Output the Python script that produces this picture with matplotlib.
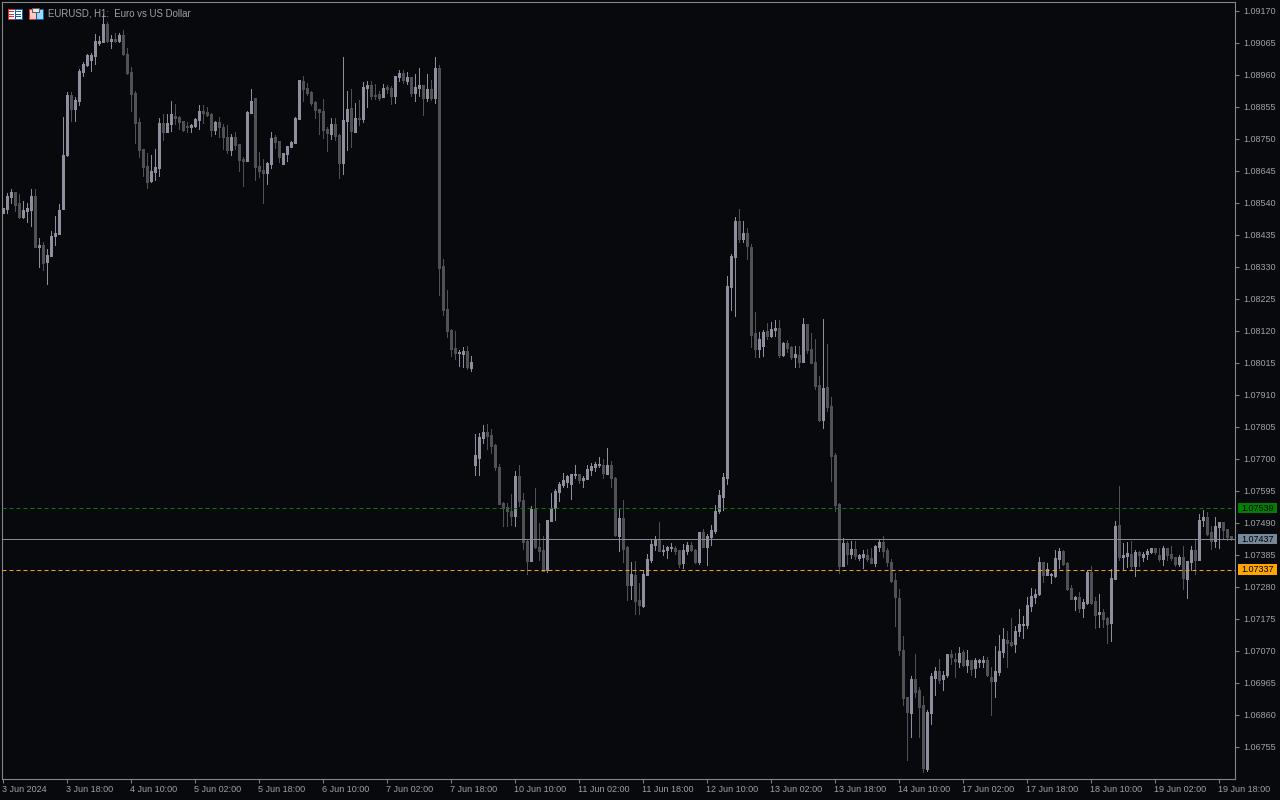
import matplotlib
matplotlib.use("Agg")
import matplotlib.pyplot as plt
from matplotlib.patches import Rectangle
from matplotlib.transforms import blended_transform_factory, Affine2D

# Prices in points (1 point = 0.00001)
highs = [108524,108573,108586,108576,108570,108547,108540,108586,108586,108425,
108412,108389,108448,108498,108537,108822,108904,108904,108888,108980,
109003,109029,109032,109094,109088,109160,109134,109091,109098,109098,
109108,109048,108986,108907,108819,108717,108704,108698,108717,108819,
108832,108832,108875,108865,108825,108809,108806,108799,108819,108862,
108862,108855,108835,108809,108822,108799,108796,108766,108773,108734,
108691,108842,108914,108884,108707,108684,108674,108773,108763,108743,
108704,108727,108743,108822,108943,108957,108934,108907,108875,108848,
108881,108789,108819,108819,108766,109019,108907,108914,108868,108878,
108937,108940,108940,108930,108907,108930,108927,108924,108957,108976,
108976,108970,108953,108963,108983,108927,108963,108943,109019,108993,
108356,108255,108127,108120,108058,108068,108071,108038,107782,107786,
107812,107815,107799,107750,107684,107558,107555,107586,107661,107681,
107589,107434,107545,107605,107490,107447,107499,107589,107602,107625,
107654,107648,107651,107681,107651,107645,107681,107687,107691,107707,
107700,107736,107694,107641,107539,107565,107414,107362,107365,107293,
107335,107388,107434,107447,107493,107417,107414,107424,107414,107401,
107421,107427,107427,107404,107460,107470,107453,107483,107549,107599,
107654,108301,108373,108494,108520,108481,108458,108406,108183,108117,
108124,108147,108150,108156,108156,108084,108091,108071,108071,108071,
108163,108143,108114,108094,107972,108160,108078,107904,107720,107555,
107440,107430,107430,107430,107388,107401,107404,107407,107417,107434,
107447,107407,107371,107325,107273,107119,106919,106988,107060,106952,
106922,106876,106998,107017,107043,107004,107060,107073,107063,107083,
107073,107073,107040,107047,107043,107053,107050,107017,107086,107122,
107145,107135,107178,107152,107207,107184,107247,107276,107273,107378,
107362,107358,107325,107401,107407,107401,107362,107286,107250,107263,
107240,107335,107348,107247,107257,107207,107181,107339,107496,107612,
107424,107427,107430,107401,107398,107394,107404,107407,107407,107407,
107414,107407,107414,107378,107385,107414,107365,107414,107434,107519,
107532,107526,107480,107509,107493,107493,107470,107447]

opens = [108507,108520,108560,108576,108540,108494,108514,108517,108563,108396,
108402,108347,108366,108432,108438,108520,108698,108894,108848,108875,
108970,108993,109009,109022,109065,109068,109127,109071,109078,109071,
109091,109029,108970,108901,108806,108717,108662,108612,108642,108655,
108803,108773,108799,108825,108822,108809,108793,108789,108793,108812,
108842,108838,108832,108779,108806,108789,108757,108714,108757,108734,
108684,108678,108835,108884,108662,108648,108638,108668,108757,108743,
108668,108701,108724,108737,108816,108940,108917,108904,108871,108848,
108842,108783,108766,108799,108763,108671,108809,108852,108773,108819,
108816,108917,108927,108894,108898,108888,108921,108917,108891,108953,
108966,108940,108953,108901,108917,108927,108884,108914,108884,108983,
108333,108192,108124,108064,108048,108045,108055,107999,107681,107704,
107769,107789,107779,107746,107674,107555,107542,107529,107512,107645,
107565,107430,107365,107536,107411,107401,107335,107496,107539,107592,
107615,107625,107618,107648,107651,107631,107635,107664,107674,107681,
107681,107651,107681,107638,107447,107506,107411,107286,107319,107237,
107217,107319,107368,107417,107437,107398,107401,107407,107407,107401,
107358,107398,107417,107401,107362,107460,107411,107444,107463,107529,
107576,107638,108265,108363,108481,108422,108442,108396,108114,108061,
108071,108120,108104,108124,108130,108042,108081,108068,108035,108042,
108018,108143,108061,108018,107943,107828,107936,107874,107714,107552,
107348,107424,107388,107404,107375,107378,107385,107375,107358,107411,
107427,107401,107362,107302,107243,107073,106919,106866,106978,106942,
106893,106683,106866,106981,107004,106978,106991,107060,107043,107033,
107066,107024,107040,107014,107033,107033,107040,106985,106972,107001,
107066,107106,107099,107093,107135,107155,107155,107217,107247,107257,
107362,107319,107319,107316,107371,107398,107358,107276,107240,107247,
107211,107227,107329,107234,107191,107198,107178,107161,107306,107483,
107378,107381,107388,107348,107394,107378,107388,107394,107407,107385,
107371,107407,107388,107378,107355,107378,107306,107362,107401,107368,
107499,107509,107460,107430,107476,107493,107470,107447]

closes = [108524,108563,108576,108534,108494,108517,108524,108563,108396,108402,
108343,108370,108432,108442,108517,108698,108894,108848,108878,108973,
108996,109026,109026,109071,109071,109127,109071,109078,109071,109091,
109029,108966,108898,108803,108714,108658,108609,108645,108658,108803,
108773,108803,108832,108819,108806,108779,108789,108796,108816,108842,
108835,108829,108779,108806,108789,108757,108714,108757,108730,108681,
108678,108838,108875,108658,108645,108638,108671,108753,108740,108691,
108704,108727,108740,108819,108943,108914,108901,108868,108845,108838,
108779,108770,108799,108760,108671,108812,108848,108776,108819,108816,
108921,108927,108891,108891,108884,108917,108914,108891,108957,108966,
108943,108953,108901,108921,108927,108884,108914,108884,108983,108327,
108189,108120,108061,108048,108051,108055,108002,108018,107714,107773,
107789,107776,107743,107674,107552,107539,107529,107512,107645,107562,
107427,107365,107536,107411,107398,107332,107499,107539,107595,107618,
107631,107645,107651,107651,107631,107638,107668,107678,107684,107684,
107654,107681,107638,107450,107506,107404,107286,107322,107234,107221,
107322,107371,107421,107437,107398,107401,107411,107411,107398,107355,
107401,107417,107401,107362,107460,107411,107447,107467,107529,107582,
107641,108268,108366,108481,108422,108442,108399,108107,108061,108094,
108117,108104,108127,108130,108042,108081,108064,108035,108045,108018,
108143,108058,108015,107940,107828,107933,107871,107710,107549,107349,
107424,107388,107404,107381,107385,107388,107371,107358,107414,107427,
107398,107362,107299,107247,107073,106916,106870,106978,106935,106886,
106686,106870,106988,107004,106975,106991,107060,107050,107037,107063,
107024,107040,107011,107040,107040,107040,106991,106972,107004,107070,
107109,107096,107089,107135,107158,107158,107221,107250,107257,107362,
107319,107339,107322,107375,107398,107355,107273,107240,107247,107211,
107230,107329,107227,107188,107198,107175,107158,107309,107480,107378,
107385,107391,107348,107394,107385,107388,107398,107407,107394,107371,
107407,107385,107375,107355,107378,107309,107365,107401,107368,107499,
107509,107453,107430,107480,107493,107467,107444,107437]

lows = [108507,108507,108540,108514,108491,108491,108478,108465,108396,108330,
108320,108274,108366,108402,108438,108520,108694,108809,108809,108862,
108957,108989,108973,108996,109058,109068,109068,109048,109068,109068,
109026,108963,108842,108737,108691,108630,108589,108609,108615,108630,
108747,108773,108776,108799,108783,108776,108773,108773,108789,108783,
108803,108825,108760,108766,108757,108717,108704,108698,108717,108645,
108596,108678,108835,108615,108625,108540,108602,108655,108720,108674,
108668,108678,108724,108737,108816,108875,108894,108862,108819,108766,
108753,108711,108750,108747,108621,108635,108714,108724,108773,108796,
108806,108855,108881,108881,108878,108888,108901,108865,108868,108940,
108934,108930,108891,108875,108891,108829,108875,108878,108868,108238,
108173,108101,108038,108028,108005,108002,107995,107989,107648,107648,
107753,107733,107720,107664,107552,107480,107480,107483,107480,107545,
107404,107322,107365,107407,107368,107332,107329,107496,107499,107562,
107608,107608,107569,107638,107622,107608,107635,107648,107661,107674,
107638,107651,107608,107447,107398,107362,107237,107240,107191,107191,
107214,107319,107362,107401,107398,107385,107375,107398,107388,107345,
107342,107388,107398,107358,107355,107411,107351,107417,107457,107522,
107532,107618,108189,108170,108412,108412,108356,108068,108035,108035,
108038,108094,108101,108104,108035,108038,108051,108028,108002,108002,
108018,108048,108015,107930,107825,107802,107858,107628,107529,107325,
107348,107355,107375,107371,107368,107342,107365,107358,107348,107398,
107378,107348,107296,107152,107057,106893,106713,106788,106919,106788,
106673,106676,106830,106926,106965,106942,106985,107027,106985,107017,
107020,107001,106991,106985,107017,107017,106988,106860,106919,106991,
107050,107017,107086,107066,107119,107112,107145,107201,107227,107253,
107296,107319,107293,107312,107342,107351,107270,107240,107204,107198,
107181,107224,107224,107145,107148,107148,107096,107102,107306,107368,
107339,107345,107339,107316,107348,107365,107371,107391,107388,107365,
107351,107368,107368,107348,107348,107273,107243,107335,107322,107368,
107480,107450,107404,107411,107407,107440,107434,107434]

time_labels = ["3 Jun 2024", "3 Jun 18:00", "4 Jun 10:00", "5 Jun 02:00", "5 Jun 18:00",
               "6 Jun 10:00", "7 Jun 02:00", "7 Jun 18:00", "10 Jun 10:00", "11 Jun 02:00",
               "11 Jun 18:00", "12 Jun 10:00", "13 Jun 02:00", "13 Jun 18:00", "14 Jun 10:00",
               "17 Jun 02:00", "17 Jun 18:00", "18 Jun 10:00", "19 Jun 02:00", "19 Jun 18:00"]
price_ticks = [109170, 109065, 108960, 108855, 108750, 108645, 108540, 108435, 108330,
               108225, 108120, 108015, 107910, 107805, 107700, 107595, 107490, 107385,
               107280, 107175, 107070, 106965, 106860, 106755]
level_high = 107539
level_bid = 107437
level_low = 107337
title = "EURUSD, H1:  Euro vs US Dollar"

POINT = 1e-5
BG = "#08090d"
BULL = "#8e8e9e"
BEAR = "#505056"
AXIS = "#85858c"
TEXT = "#a0a0a8"
FONT = "Liberation Sans"
FS = 6.5
W, H = 1280, 800

n = len(closes)
xs = list(range(n))
to_price = lambda seq: [v * POINT for v in seq]
hi, lo, op, cl = map(to_price, (highs, lows, opens, closes))
colors = [BULL if c >= o else BEAR for o, c in zip(op, cl)]

fig = plt.figure(figsize=(W / 100, H / 100), dpi=100, facecolor=BG)
ax = fig.add_axes([2 / W, (H - 779) / H, 1233 / W, 777 / H], facecolor=BG)
ax.set_xlim(-0.125, 308.125)
ax.set_ylim(1.0665, 1.0919953)

ax.vlines(xs, lo, hi, colors=colors, linewidth=0.72, antialiased=False, zorder=2)
bottoms = [min(o, c) for o, c in zip(op, cl)]
heights = [abs(o - c) for o, c in zip(op, cl)]
ax.vlines(xs, bottoms, [b + h for b, h in zip(bottoms, heights)], colors=colors,
          linewidth=2.16, antialiased=False, zorder=3)

for price, col, style in [(level_high, "#008000", (0, (4.0, 3.0))),
                          (level_low, "#ffa500", (0, (4.0, 3.0))),
                          (level_bid, "#8a8a96", "-")]:
    ax.axhline(price * POINT, color=col, linewidth=0.72, linestyle=style, zorder=4)

for s in ax.spines.values():
    s.set_color(AXIS)
    s.set_linewidth(0.8)
ax.yaxis.tick_right()
ax.set_yticks([p * POINT for p in price_ticks])
ax.set_yticklabels([f"{p * POINT:.5f}" for p in price_ticks], fontfamily=FONT, fontsize=FS, color=TEXT)
ax.set_xticks([i * 16 for i in range(len(time_labels))])
ax.set_xticklabels(time_labels, fontfamily=FONT, fontsize=FS, color=TEXT, ha="left")
ax.tick_params(axis="y", length=2.6, width=0.72, color=AXIS, pad=3.6)
ax.tick_params(axis="x", length=2.6, width=0.72, color=AXIS, pad=1.5)

# Price tags on the right scale
tr = blended_transform_factory(ax.transAxes, ax.transData)
px_y = 0.0000328125
for price, col in [(level_high, "#008000"), (level_bid, "#778899"), (level_low, "#ffa500")]:
    p = price * POINT
    ax.add_patch(Rectangle((1 + 2.5 / 1233, p - 5.2 * px_y), 39.5 / 1233, 10.4 * px_y, transform=tr,
                           facecolor=col, edgecolor="none", clip_on=False, zorder=6))
    ax.text(1 + 6.5 / 1233, p, f"{p:.5f}", transform=tr, fontfamily=FONT, fontsize=FS, color="#000000",
            ha="left", va="center", clip_on=False, zorder=7)

fig.text(48 / W, 1 - 13.5 / H, title, fontfamily=FONT, fontsize=6.9, color=TEXT, ha="left", va="center")

# Toolbar icons, placed in figure pixels from the top-left corner
px = Affine2D().scale(1 / W, -1 / H).translate(0, 1) + fig.transFigure
def box(x, y, w, h, fc, ec="none"):
    fig.add_artist(Rectangle((x, y), w, h, transform=px, facecolor=fc, edgecolor=ec, linewidth=0.7,
                             antialiased=False))
box(7.5, 8.5, 7, 10, "#ffffff", "#e03030")
box(14.5, 8.5, 7, 10, "#ffffff", "#1060b0")
for yy in (11, 13.5, 16):
    box(9, yy, 5, 1, "#e03030")
    box(16, yy, 5, 1, "#1060b0")
box(28.5, 8.5, 7, 10, "#ffc8c0", "#e03030")
box(35.5, 8.5, 7, 10, "#a0d8f8", "#1060b0")
box(32, 8, 7, 3.5, "#e8e8e8", "#606060")

fig.savefig("out.png", dpi=100, facecolor=BG)
